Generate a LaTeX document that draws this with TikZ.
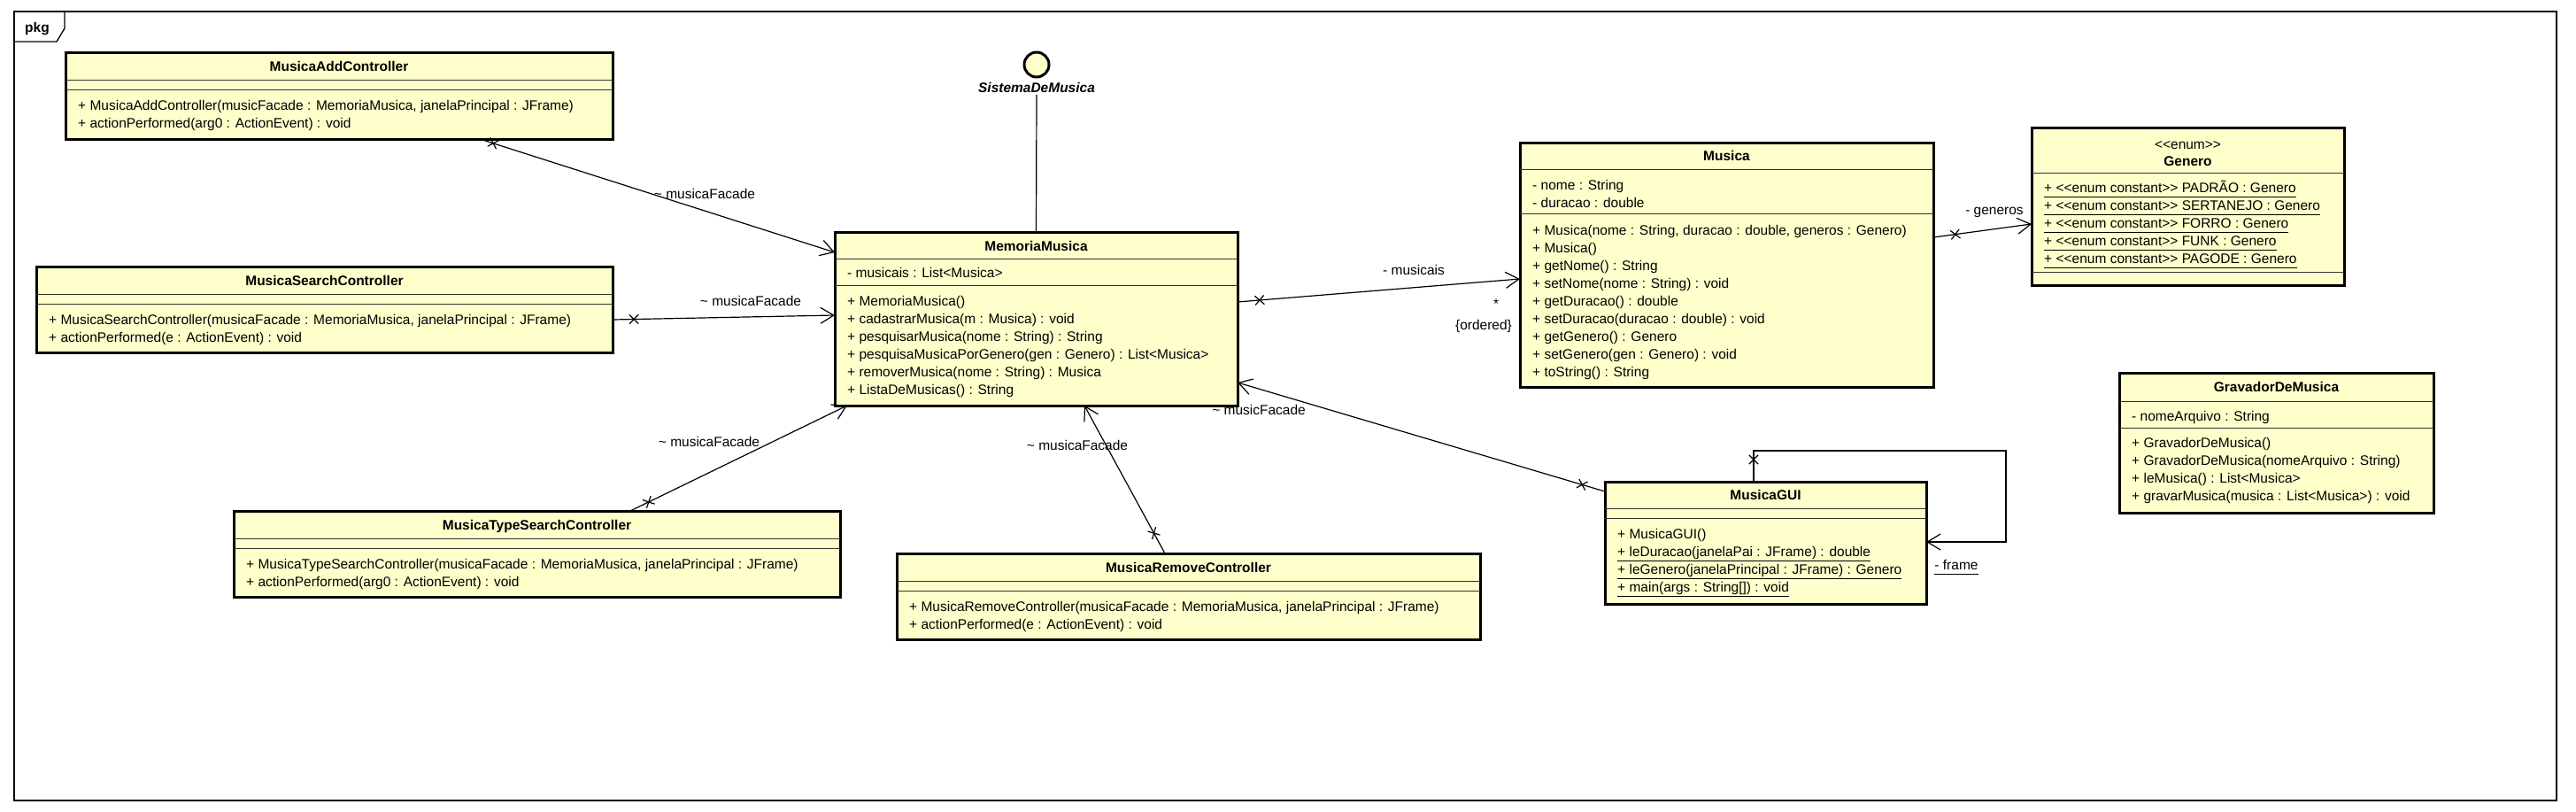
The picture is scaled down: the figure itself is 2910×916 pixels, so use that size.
\documentclass[tikz,border=0pt]{standalone}
\usepackage{fontspec}
\setmainfont{Liberation Sans}
\usetikzlibrary{arrows.meta,calc,shapes.misc}
\definecolor{umlfill}{RGB}{255,255,204}
\newcommand\fnt{\fontsize{15.5}{20}\selectfont}
\newcommand\dlt{<\kern0pt<}
\newcommand\dgt{>\kern0pt>}
\newcommand\tld{\textasciitilde{}}
\newcommand\ul[1]{\underline{#1\vphantom{(}}}
\newcommand\umlbox[5]{\node[cls, minimum width=#4pt, minimum height=#5pt] (#1) at (#2,#3) {};}
\newcommand\sepat[2]{\draw[sep] ([yshift=-#2pt]#1.north west) -- ([yshift=-#2pt]#1.north east);}
\newcommand\rows[4]{\foreach \itm [count=\k] in {#4} {\node[txt] (#1-\k) at (#2,{#3+20*(\k-1)}) {\itm};}}
\begin{document}
\begin{tikzpicture}[x=1pt,y=-1pt,
  cls/.style={draw=black, line width=3pt, fill=umlfill, inner sep=0pt, outer sep=0pt, anchor=north west},
  sep/.style={line width=1pt, draw=black!80},
  ttl/.style={font=\fnt\bfseries, inner sep=0pt, anchor=base},
  txt/.style={font=\fnt, inner sep=0pt, anchor=base west},
  lbl/.style={font=\fnt, inner sep=0pt, anchor=base},
  assoc/.style={line width=1.2pt, -{Straight Barb[length=15pt,width=18pt,line width=1.2pt]}},
  xmark/.style={cross out, draw, line width=1.2pt, minimum size=9pt, inner sep=0pt, sloped, allow upside down}
]
\fill[white] (0,0) rectangle (2910,916);
\path[use as bounding box] (0,0) rectangle (2910,916);

% frame
\node[draw, line width=1.3pt, minimum width=2872pt, minimum height=891pt, inner sep=0pt, outer sep=0pt, anchor=north west] (frame) at (16,13) {};
\draw[line width=1.3pt] (frame.north west) ++(0,34) -- ++(48,0) -- ++(9,-15) -- ++(0,-19);
\node[ttl] (pkg) at (42,36) {pkg};

% MusicaAddController
\umlbox{add}{74}{59}{618}{98}
\sepat{add}{31}\sepat{add}{42}
\node[ttl] (add-t) at (383,80) {MusicaAddController};
\rows{add}{88}{124.5}{{+ MusicaAddController(musicFacade : MemoriaMusica, janelaPrincipal : JFrame)},{+ actionPerformed(arg0 : ActionEvent) : void}}

% MusicaSearchController
\umlbox{srch}{41}{301}{651}{97}
\sepat{srch}{31}\sepat{srch}{42}
\node[ttl] (srch-t) at (366.5,322) {MusicaSearchController};
\rows{srch}{55}{366.5}{{+ MusicaSearchController(musicaFacade : MemoriaMusica, janelaPrincipal : JFrame)},{+ actionPerformed(e : ActionEvent) : void}}

% MusicaTypeSearchController
\umlbox{tsrch}{264}{577}{685}{97}
\sepat{tsrch}{31}\sepat{tsrch}{42}
\node[ttl] (tsrch-t) at (606.5,598) {MusicaTypeSearchController};
\rows{tsrch}{278}{642.5}{{+ MusicaTypeSearchController(musicaFacade : MemoriaMusica, janelaPrincipal : JFrame)},{+ actionPerformed(arg0 : ActionEvent) : void}}

% MusicaRemoveController
\umlbox{rem}{1013}{625}{659}{97}
\sepat{rem}{31}\sepat{rem}{42}
\node[ttl] (rem-t) at (1342.5,646) {MusicaRemoveController};
\rows{rem}{1027}{690.5}{{+ MusicaRemoveController(musicaFacade : MemoriaMusica, janelaPrincipal : JFrame)},{+ actionPerformed(e : ActionEvent) : void}}

% MemoriaMusica
\umlbox{mm}{943}{262}{455}{196}
\sepat{mm}{30}\sepat{mm}{60}
\node[ttl] (mm-t) at (1170.5,283) {MemoriaMusica};
\node[txt] (mm-a) at (957,313.5) {- musicais : List<Musica>};
\rows{mm}{957}{345.5}{{+ MemoriaMusica()},{+ cadastrarMusica(m : Musica) : void},{+ pesquisarMusica(nome : String) : String},{+ pesquisaMusicaPorGenero(gen : Genero) : List<Musica>},{+ removerMusica(nome : String) : Musica},{+ ListaDeMusicas() : String}}

% SistemaDeMusica interface
\node[circle, draw=black, line width=3pt, fill=umlfill, minimum size=28pt, inner sep=0pt] (sys) at (1171,73) {};
\node[font=\fnt\bfseries\itshape, inner sep=0pt, anchor=base] (syslbl) at (1171,104.5) {SistemaDeMusica};
\draw[line width=1.2pt] (syslbl.south) ++(0,2) -- (mm.north);

% Musica
\umlbox{mus}{1717}{161}{467}{276}
\sepat{mus}{30}\sepat{mus}{80}
\node[ttl] (mus-t) at (1950.5,181.5) {Musica};
\rows{musa}{1731}{214}{{- nome : String},{- duracao : double}}
\rows{mus}{1731}{265.5}{{+ Musica(nome : String, duracao : double, generos : Genero)},{+ Musica()},{+ getNome() : String},{+ setNome(nome : String) : void},{+ getDuracao() : double},{+ setDuracao(duracao : double) : void},{+ getGenero() : Genero},{+ setGenero(gen : Genero) : void},{+ toString() : String}}

% Genero
\umlbox{gen}{2295}{144}{353}{178}
\sepat{gen}{51}\sepat{gen}{163}
\node[lbl] (gen-s) at (2471.5,168.5) {\dlt enum\dgt};
\node[ttl] (gen-t) at (2471.5,187.5) {Genero};
\rows{gen}{2309}{217.5}{{\ul{+ \dlt enum constant\dgt{} PADRÃO : Genero}},{\ul{+ \dlt enum constant\dgt{} SERTANEJO : Genero}},{\ul{+ \dlt enum constant\dgt{} FORRO : Genero}},{\ul{+ \dlt enum constant\dgt{} FUNK : Genero}},{\ul{+ \dlt enum constant\dgt{} PAGODE : Genero}}}

% GravadorDeMusica
\umlbox{grav}{2394}{421}{355}{158}
\sepat{grav}{32}\sepat{grav}{62}
\node[ttl] (grav-t) at (2571.5,442.5) {GravadorDeMusica};
\node[txt] (grav-a) at (2408,475.5) {- nomeArquivo : String};
\rows{grav}{2408}{505.5}{{+ GravadorDeMusica()},{+ GravadorDeMusica(nomeArquivo : String)},{+ leMusica() : List<Musica>},{+ gravarMusica(musica : List<Musica>) : void}}

% MusicaGUI
\umlbox{gui}{1813}{544}{363}{138}
\sepat{gui}{30}\sepat{gui}{41}
\node[ttl] (gui-t) at (1994.5,564.5) {MusicaGUI};
\rows{gui}{1827}{608.5}{{+ MusicaGUI()},{\ul{+ leDuracao(janelaPai : JFrame) : double}},{\ul{+ leGenero(janelaPrincipal : JFrame) : Genero}},{\ul{+ main(args : String[]) : void}}}

% connectors
\coordinate (c1a) at ([xshift=468pt]add.south west);
\coordinate (c1b) at ([yshift=-23pt]mm.north west);
\draw[assoc] (c1a) -- node[xmark, pos=0.038] (x1) {} (c1b);
\node[lbl] (l1) at (796,224.5) {\tld{} musicaFacade};

\coordinate (c2a) at ([yshift=-60pt]srch.north east);
\coordinate (c2b) at ([yshift=-94pt]mm.north west);
\draw[assoc] (c2a) -- node[xmark, pos=0.096] (x2) {} (c2b);
\node[lbl] (l2) at (848,345.5) {\tld{} musicaFacade};

\coordinate (c3a) at ([xshift=448pt]tsrch.north west);
\coordinate (c3b) at ([xshift=14pt]mm.south west);
\draw[assoc] (c3a) -- node[xmark, pos=0.085] (x3) {} (c3b);
\node[lbl] (l3) at (801,504.5) {\tld{} musicaFacade};

\coordinate (c4a) at ([xshift=303pt]rem.north west);
\coordinate (c4b) at ([xshift=282pt]mm.south west);
\draw[assoc] (c4a) -- node[xmark, pos=0.137] (x4) {} (c4b);
\node[lbl] (l4) at (1217,508.5) {\tld{} musicaFacade};

\coordinate (c5a) at ([yshift=-11pt]gui.north west);
\coordinate (c5b) at ([yshift=-170pt]mm.north east);
\draw[assoc] (c5a) -- node[xmark, pos=0.062] (x5) {} (c5b);
\node[lbl] (l5) at (1422,468.5) {\tld{} musicFacade};

\coordinate (c6a) at ([yshift=-79pt]mm.north east);
\coordinate (c6b) at ([yshift=-154pt]mus.north west);
\draw[assoc] (c6a) -- node[xmark, pos=0.078] (x6) {} (c6b);
\node[lbl] (l6) at (1597,310.5) {- musicais};
\node[font=\fnt, inner sep=0pt] (l6m) at (1690,343) {*};
\node[lbl] (l6o) at (1676,372.5) {\{ordered\}};

\coordinate (c7a) at ([yshift=-107pt]mus.north east);
\coordinate (c7b) at ([yshift=-109pt]gen.north west);
\draw[assoc] (c7a) -- node[xmark, pos=0.223] (x7) {} (c7b);
\node[lbl] (l7) at (2253,242.5) {- generos};

\coordinate (c8a) at ([xshift=168pt]gui.north west);
\coordinate (c8b) at ([yshift=-68pt]gui.north east);
\draw[assoc] (c8a) -- ++(0,-35) -- ++(285,0) |- (c8b);
\node[xmark, rotate=90] (x8) at ([yshift=25pt]c8a) {};
\node[lbl] (l8) at (2210,643.5) {\ul{- frame}};
\end{tikzpicture}
\end{document}
